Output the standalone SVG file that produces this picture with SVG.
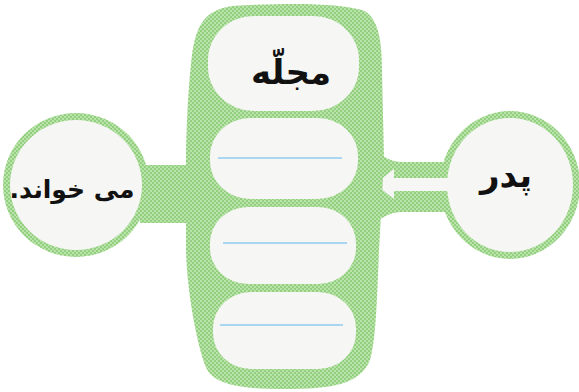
<svg xmlns="http://www.w3.org/2000/svg" width="579" height="392" viewBox="0 0 579 392">
  <defs>
    <pattern id="dots" width="4" height="4" patternUnits="userSpaceOnUse">
      <rect width="4" height="4" fill="#92cf7f"/>
      <circle cx="1" cy="1" r="0.9" fill="#cdeebf"/>
      <circle cx="3" cy="3" r="0.9" fill="#cdeebf"/>
    </pattern>
    <style>
      .green { fill: url(#dots); }
      .paper { fill: #f6f6f4; }
      .rule { stroke: #a9d6f2; stroke-width: 2; fill: none; }
      .lbl { font-family: "DejaVu Sans", sans-serif; font-size: 34px; font-weight: bold; fill: #111; text-anchor: middle; direction: rtl; }
      .small { font-size: 25px; }
    </style>
  </defs>
  <rect width="579" height="392" fill="#ffffff"/>

  <g id="connectors">
    <path class="green" d="M140,165 L195,165 L195,223 L140,223 Z"/>
    <path class="green" d="M375,150 C385,158 392,162 402,162 L445,162 L445,212 L402,212 C392,212 385,216 375,222 Z"/>
    <polygon class="paper" points="375,184 394,169 394,178 448,178 448,191 394,191 394,199"/>
  </g>

  <g id="column">
    <path class="green" d="M232,6 C300,2 340,4 362,10 C378,16 382,40 382,70 L384,160 L379,250 C377,300 376,340 370,360 C360,385 330,389 285,389 C240,389 212,385 205,365 C196,340 187,290 186,250 L186,150 C187,110 189,80 192,55 C196,25 205,10 232,6 Z"/>
  </g>

  <g id="node-majalle">
    <rect class="paper" x="208" y="16" width="151" height="95" rx="46" ry="44"/>
    <text class="lbl" x="291" y="84">مجلّه</text>
  </g>
  <g id="node-blank-1">
    <rect class="paper" x="210" y="118" width="148" height="81" rx="40" ry="38"/>
    <line class="rule" x1="218" y1="158" x2="342" y2="158"/>
  </g>
  <g id="node-blank-2">
    <rect class="paper" x="210" y="207" width="146" height="77" rx="38" ry="36"/>
    <line class="rule" x1="223" y1="243" x2="347" y2="243"/>
  </g>
  <g id="node-blank-3">
    <rect class="paper" x="213" y="292" width="143" height="77" rx="38" ry="36"/>
    <line class="rule" x1="220" y1="325" x2="343" y2="325"/>
  </g>

  <g id="node-mikhanad">
    <ellipse class="green" cx="76" cy="185" rx="73" ry="72"/>
    <ellipse class="paper" cx="76" cy="185" rx="66" ry="65"/>
    <text class="lbl small" x="72" y="198">می خواند.</text>
  </g>

  <g id="node-padar">
    <ellipse class="green" cx="510" cy="185" rx="70" ry="74"/>
    <ellipse class="paper" cx="510" cy="185" rx="63" ry="67"/>
    <polygon class="paper" points="440,178 452,178 452,191 440,191"/>
    <text class="lbl" x="506" y="187">پدر</text>
  </g>
</svg>
